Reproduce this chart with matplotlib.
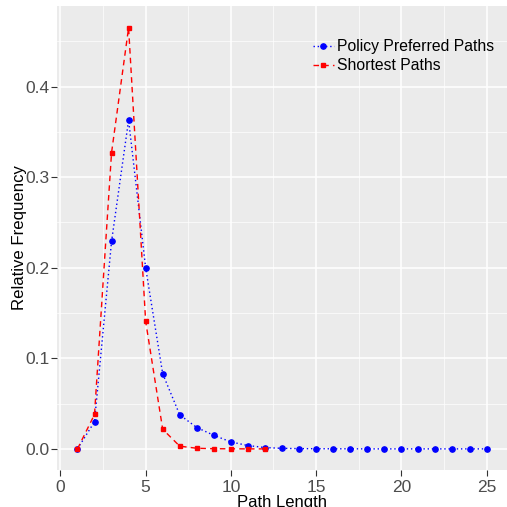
import matplotlib
matplotlib.use("Agg")
import matplotlib.pyplot as plt
import numpy as np

plt.rcParams['font.family'] = ['Liberation Sans', 'DejaVu Sans']

# Data
policy_x = list(range(1, 26))
policy_y = [0.0, 0.030, 0.229, 0.363, 0.200, 0.083, 0.0376, 0.0236, 0.015, 0.0077,
            0.0037, 0.0015, 0.0006, 0.0003, 0.0002, 0.0001, 0.0001, 0.0, 0.0, 0.0,
            0.0, 0.0, 0.0, 0.0, 0.0]
short_x = list(range(1, 13))
short_y = [0.0, 0.038, 0.327, 0.465, 0.141, 0.0217, 0.003, 0.0007, 0.0002, 0.0001, 0.0, 0.0]
series_labels = ["Policy Preferred Paths", "Shortest Paths"]
xticks = [0, 5, 10, 15, 20, 25]
yticks = [0.0, 0.1, 0.2, 0.3, 0.4]

fig = plt.figure(figsize=(5.07, 5.07), dpi=100)
ax = fig.add_axes([57/507, 37/507, 450/507, 464/507])
ax.set_facecolor('#EBEBEB')
for s in ax.spines.values():
    s.set_visible(False)

ax.plot(policy_x, policy_y, color='blue', linestyle=(0, (1, 2)), linewidth=1.0,
        marker='o', markersize=3.8, label=series_labels[0], zorder=3)
ax.plot(short_x, short_y, color='red', linestyle=(0, (4, 3)), linewidth=1.0,
        marker='s', markersize=3.2, label=series_labels[1], zorder=3)

ax.set_xlim(-0.2, 26.2)
ax.set_ylim(-0.0233, 0.489)
ax.set_xticks(xticks)
ax.set_yticks(yticks)
ax.set_xticklabels([str(t) for t in xticks])
ax.set_yticklabels([f"{t:.1f}" for t in yticks])
ax.set_xticks([2.5, 7.5, 12.5, 17.5, 22.5], minor=True)
ax.set_yticks([0.05, 0.15, 0.25, 0.35, 0.45], minor=True)
ax.grid(which='major', color='white', linewidth=1.1)
ax.grid(which='minor', color='white', linewidth=0.5)
ax.set_axisbelow(True)
ax.tick_params(which='major', color='#333333', length=4, width=0.8,
               labelsize=12.5, labelcolor='#4D4D4D', pad=1.5)
ax.tick_params(axis='x', which='major', pad=3)
ax.tick_params(which='minor', length=0)

ax.set_xlabel("Path Length", fontsize=12, color='black', labelpad=0)
ax.set_ylabel("Relative Frequency", fontsize=12.1, color='black', labelpad=-1.5)

leg = ax.legend(loc='upper right', bbox_to_anchor=(0.995, 0.952), fontsize=11.3,
                frameon=False, handlelength=1.3, handletextpad=0.2,
                labelspacing=0.25, borderpad=0.2)

fig.savefig("out.png", dpi=100)
